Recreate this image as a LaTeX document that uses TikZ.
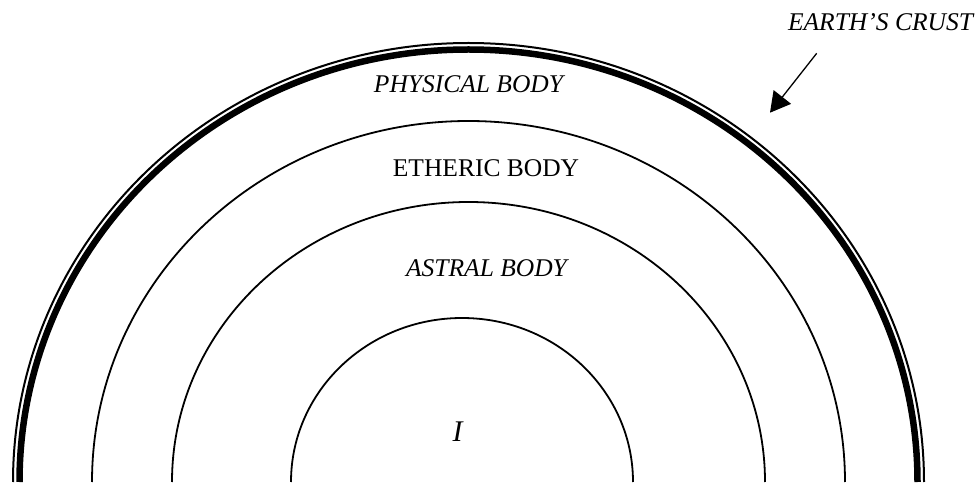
\documentclass[tikz,border=0pt]{standalone}
\usepackage{fontspec}
\setmainfont{Liberation Serif}
\usetikzlibrary{arrows.meta}
\begin{document}
\begin{tikzpicture}[x=1pt,y=1pt,
  ring/.style={line width=1.8pt},
  lbl/.style={anchor=base,inner sep=0pt,font=\fontsize{25.5}{30}\selectfont},
  ilbl/.style={lbl,font=\fontsize{25.5}{30}\selectfont\itshape}]
\useasboundingbox (0,0) rectangle (980,482);
\begin{scope}
\clip (0,0) rectangle (980,482);
% inner ring
\draw[ring] (462+171,0) arc[start angle=0,end angle=180,x radius=171,y radius=164];
% astral ring
\draw[ring] (468.5+296.5,0) arc[start angle=0,end angle=180,x radius=296.5,y radius=280];
% etheric ring
\draw[ring] (468.5+376.5,0) arc[start angle=0,end angle=180,x radius=376.5,y radius=361];
% earth's crust
\draw[line width=6.5pt] (468.5+449,0) arc[start angle=0,end angle=180,x radius=449,y radius=432.5];
\draw[line width=2pt] (468.5+455.5,0) arc[start angle=0,end angle=180,x radius=455.5,y radius=439];
\end{scope}
\node[ilbl] (phys) at (468.5,389) {PHYSICAL BODY};
\node[lbl] (eth) at (486,305) {ETHERIC BODY};
\node[ilbl] (astr) at (486.5,205) {ASTRAL BODY};
\node[lbl,font=\fontsize{30}{34}\selectfont\itshape] (ego) at (457.5,41) {I};
\node[ilbl] (crust) at (880.5,451) {EARTH’S CRUST};
\coordinate (arrstart) at (816.7,428.7);
\coordinate (arrend) at (770,369.3);
\draw[line width=1.3pt,-{Triangle[length=20pt,width=22pt]}] (arrstart) -- (arrend);
\end{tikzpicture}
\end{document}
